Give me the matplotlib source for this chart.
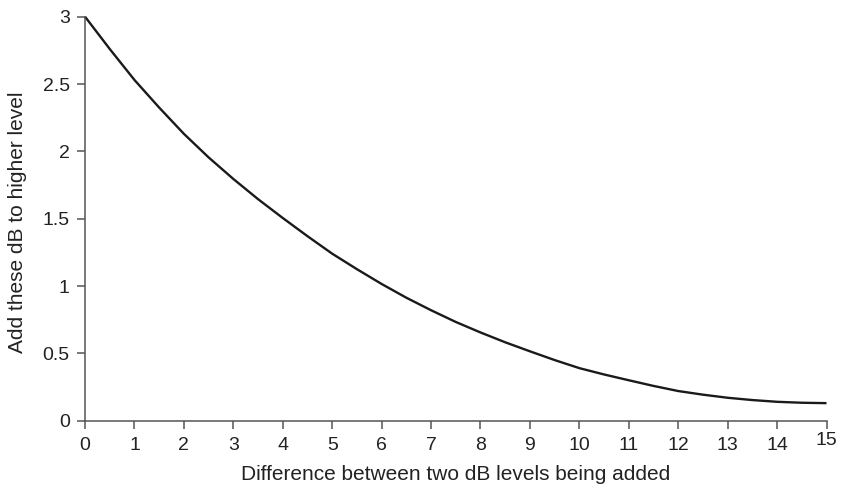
import matplotlib.pyplot as plt
import matplotlib.transforms as mtransforms

plt.rcParams['font.family'] = ['Liberation Sans', 'DejaVu Sans']

# Diferencia entre niveles (dB) y lo que se suma al mayor
diferencia_db = [0, 0.5, 1, 1.5, 2, 2.5, 3, 3.5, 4, 4.5, 5, 5.5, 6, 6.5, 7,
                 7.5, 8, 8.5, 9, 9.5, 10, 10.5, 11, 11.5, 12, 12.5, 13,
                 13.5, 14, 14.5, 15]
suma_db = [3.00, 2.76, 2.53, 2.325, 2.13, 1.955, 1.795, 1.645, 1.505, 1.37,
           1.24, 1.125, 1.015, 0.913, 0.82, 0.733, 0.655, 0.582, 0.515,
           0.45, 0.39, 0.343, 0.30, 0.258, 0.22, 0.193, 0.17, 0.153, 0.14,
           0.133, 0.13]

x_ticks = list(range(0, 16))
y_ticks = [0, 0.5, 1, 1.5, 2, 2.5, 3]
y_tick_labels = ["0", "0.5", "1", "1.5", "2", "2.5", "3"]

fig = plt.figure(figsize=(8.42, 4.88), dpi=100)
ax = fig.add_axes([0.101, 0.138, 0.8806, 0.8278])

ax.plot(diferencia_db, suma_db, color="#1a1a1a", linewidth=1.7,
        clip_on=False, solid_joinstyle="round", solid_capstyle="butt")

ax.set_xlim(0, 15)
ax.set_ylim(0, 3)
ax.set_xticks(x_ticks)
ax.set_yticks(y_ticks)
ax.set_yticklabels(y_tick_labels)

for lado in ["top", "right"]:
    ax.spines[lado].set_visible(False)
for lado in ["left", "bottom"]:
    ax.spines[lado].set_color("#555555")
    ax.spines[lado].set_linewidth(1.1)

ax.tick_params(axis="both", direction="out", length=5.5, width=1.1,
               color="#555555", labelsize=14, labelcolor="#222222")
ax.tick_params(axis="x", pad=6.5)
ax.tick_params(axis="y", pad=5.5)

# El "15" aparece un poco mas arriba en el original
etiqueta_15 = ax.get_xticklabels()[-1]
desplazamiento = mtransforms.ScaledTranslation(0, 5 / 100, fig.dpi_scale_trans)
etiqueta_15.set_transform(etiqueta_15.get_transform() + desplazamiento)

fig.text(0.5415, 8 / 488, "Difference between two dB levels being added",
         ha="center", va="baseline", fontsize=15, color="#222222")
fig.text(17.5 / 842, 1 - 222 / 488, "Add these dB to higher level",
         ha="center", va="center", rotation=90, fontsize=15, color="#222222")

fig.savefig("out.png", dpi=100)
